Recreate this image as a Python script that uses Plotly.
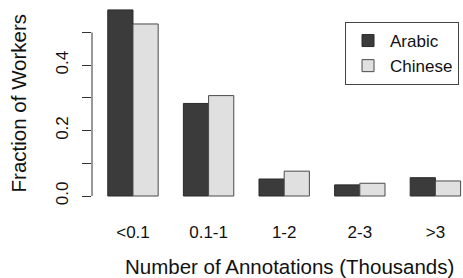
import plotly.graph_objects as go

categories = ["<0.1", "0.1-1", "1-2", "2-3", ">3"]
arabic = [0.569, 0.283, 0.052, 0.034, 0.056]
chinese = [0.526, 0.307, 0.076, 0.039, 0.046]
y_tickvals = [0.0, 0.1, 0.2, 0.3, 0.4, 0.5]
y_ticktext = ["0.0", "", "0.2", "", "0.4", ""]

FONT = "Liberation Sans, Arial, Helvetica, sans-serif"

fig = go.Figure()
fig.add_trace(go.Bar(x=categories, y=arabic, name="Arabic",
                     marker=dict(color="#3b3b3b", line=dict(color="#2a2a2a", width=1))))
fig.add_trace(go.Bar(x=categories, y=chinese, name="Chinese",
                     marker=dict(color="#e0e0e0", line=dict(color="#4a4a4a", width=1))))

fig.update_layout(
    width=463, height=278,
    margin=dict(l=92, r=0, t=5, b=73, autoexpand=False),
    paper_bgcolor="white", plot_bgcolor="white",
    barmode="group", bargap=1/3, bargroupgap=0,
    font=dict(family=FONT, color="#111111", size=17),
    showlegend=True,
    legend=dict(x=0.682, y=0.915, xanchor="left", yanchor="top",
                bordercolor="#444444", borderwidth=1, bgcolor="white",
                font=dict(size=17), itemwidth=34),
)
fig.update_xaxes(range=[-0.542, 4.365], showline=False, showgrid=False, zeroline=False,
                 automargin=False,
                 ticks="outside", ticklen=12, tickcolor="rgba(0,0,0,0)",
                 tickfont=dict(size=17))
fig.update_yaxes(range=[-0.0275, 0.584], showline=False, showgrid=False, zeroline=False,
                 automargin=False,
                 tickvals=y_tickvals, ticktext=y_ticktext, ticks="outside", ticklen=9,
                 tickcolor="#333333", tickwidth=1, tickangle=-90, tickfont=dict(size=17),
                 ticklabelstandoff=7)
fig.add_shape(type="line", xref="paper", yref="y", x0=0, x1=0, y0=0, y1=0.5,
              line=dict(color="#333333", width=1))

fig.add_annotation(text="Number of Annotations (Thousands)", xref="paper", yref="paper",
                   x=(289 - 92) / 371, y=(205 - 266.5) / 200, xanchor="center", yanchor="middle",
                   showarrow=False, font=dict(size=20.5))
fig.add_annotation(text="Fraction of Workers", xref="paper", yref="paper",
                   x=(18 - 92) / 371, y=(205 - 103.4) / 200, xanchor="center", yanchor="middle",
                   textangle=-90, showarrow=False, font=dict(size=20.5))

fig.write_html("out.html", config={"displayModeBar": False},
               post_script="document.body.style.margin='0';document.body.style.padding='0';")
